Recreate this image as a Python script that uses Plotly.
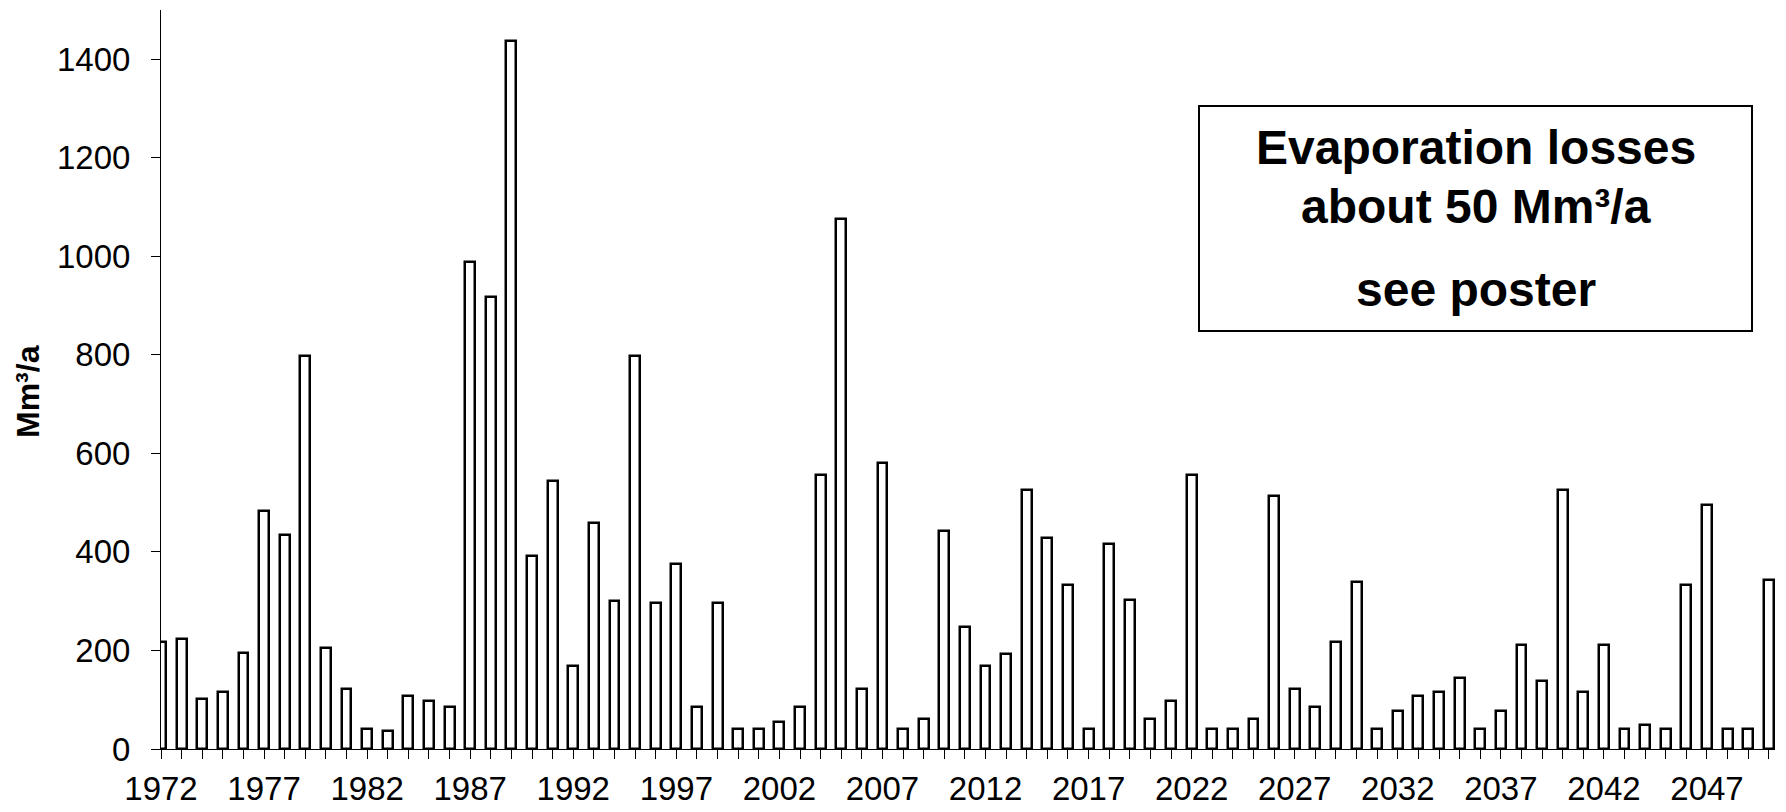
import plotly.graph_objects as go

years = list(range(1972, 2051))
values = [
    218, 223, 102, 116, 194, 483, 435, 797, 206, 121,   # 1972-1981
    41, 36, 108, 97, 85, 989, 917, 1438, 392, 543,       # 1982-1991
    169, 459, 301, 798, 296, 375, 85, 296, 41, 41,       # 1992-2001
    55, 85, 556, 1075, 121, 580, 41, 61, 442, 247,       # 2002-2011
    169, 193, 526, 428, 332, 41, 417, 302, 61, 97,       # 2012-2021
    557, 41, 41, 61, 513, 121, 85, 217, 338, 41,         # 2022-2031
    78, 108, 116, 145, 41, 78, 212, 139, 526, 116,       # 2032-2041
    212, 41, 48, 41, 332, 496, 41, 41, 344,              # 2042-2050
]
tick_labels = [str(y) if (y - 1972) % 5 == 0 else "" for y in years]
y_ticks = [0, 200, 400, 600, 800, 1000, 1200, 1400]

box_lines = ["Evaporation losses", "about 50 Mm³/a", "see poster"]
y_title = "Mm³/a"

FONT = "Liberation Sans, Arial, sans-serif"

fig = go.Figure()
fig.add_trace(go.Bar(
    x=years, y=values, width=0.48,
    marker=dict(color="white", line=dict(color="black", width=2.5)),
    showlegend=False,
))

# page is offset by the default 8px body margin
OFF = 8
W, H = 1786 - OFF, 812 - OFF
PL, PR, PT, PB = 161, 1775, 10, 749   # plot area in page pixels
L, T = PL - OFF, PT - OFF
R = 1786 - PR
B = 812 - PB
pw, ph = PR - PL, PB - PT

def px(x):
    return (x - PL) / pw

def py(y):
    return (PB - y) / ph

fig.update_layout(
    width=W, height=H,
    margin=dict(l=L, r=R, t=T, b=B, autoexpand=False),
    paper_bgcolor="white", plot_bgcolor="white",
    font=dict(family=FONT, color="black", size=33),
    bargap=0,
    xaxis=dict(
        range=[1972, 2050.3],
        tickmode="array", tickvals=years, ticktext=tick_labels,
        ticks="outside", ticklen=9, tickwidth=1, tickcolor="black",
        showline=True, linecolor="black", linewidth=1,
        showgrid=False, zeroline=False,
        tickfont=dict(size=33, family=FONT),
        ticklabelstandoff=1,
        automargin=False,
    ),
    yaxis=dict(
        range=[0, 1500],
        tickmode="array", tickvals=y_ticks,
        ticks="outside", ticklen=9, tickwidth=1, tickcolor="black",
        showline=True, linecolor="black", linewidth=1,
        showgrid=False, zeroline=False,
        tickfont=dict(size=33, family=FONT),
        ticklabelstandoff=14,
        automargin=False,
    ),
)

# y-axis title (placed to match the reference's vertical offset)
fig.add_annotation(xref="paper", yref="paper", x=px(28), y=py(392),
                   text="<b>" + y_title + "</b>", textangle=-90, showarrow=False,
                   xanchor="center", yanchor="middle",
                   font=dict(size=32, family="Liberation Sans Narrow, Arial Narrow, Liberation Sans, Arial",
                             color="black"))

# text box
fig.add_shape(type="rect", xref="paper", yref="paper",
              x0=px(1199), x1=px(1752), y0=py(331), y1=py(106),
              line=dict(color="black", width=2), fillcolor="white", layer="above")

cx = px(1475.5)
for txt, yc in zip(box_lines, [148, 206, 289]):
    fig.add_annotation(xref="paper", yref="paper", x=cx, y=py(yc),
                       text="<b>" + txt + "</b>", showarrow=False,
                       xanchor="center", yanchor="middle",
                       font=dict(size=48, family=FONT, color="black"))

fig.write_html("out.html")
